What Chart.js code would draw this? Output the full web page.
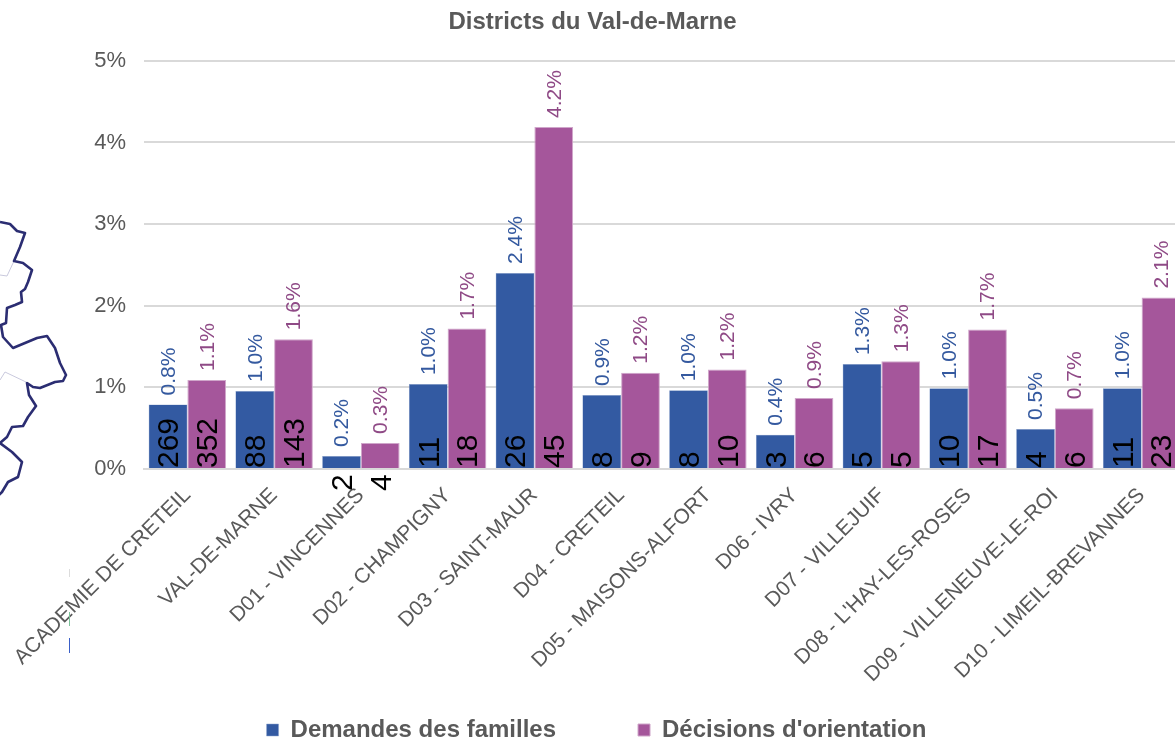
<!DOCTYPE html>
<html><head><meta charset="utf-8">
<style>html,body{margin:0;padding:0;background:#fff;overflow:hidden;width:1175px;height:740px}
#w{position:relative;width:1175px;height:740px;overflow:hidden}
canvas{position:absolute;left:0;top:0}
svg{position:absolute;left:0;top:0;pointer-events:none}</style>
<script src="https://cdn.jsdelivr.net/npm/chart.js@4"></script>
</head><body><div id="w">
<canvas id="c" width="1192" height="740" style="width:1192px;height:740px"></canvas>
<svg width="80" height="660" viewBox="0 0 80 660">
<polyline fill="none" stroke="#c9c9dd" stroke-width="1" points="14,261 7,276 0,275"/>
<polyline fill="none" stroke="#c9c9dd" stroke-width="1" points="0,380 5,372 26,382"/>
<polyline fill="none" stroke="#2b2d72" stroke-width="2.6" stroke-linejoin="round" points="0,222 10,224 17,231 25,233 20,247 14,261 23,263 32,270 28,282 25,289 21,292 22,302 15,305 7,308 6,323 1,325 3,337 13,348 25,343 37,338 47,336 55,348 60,363 66,375 63,381 55,382 40,388 33,387 27,383 29,395 36,406 28,417 23,426 12,427 7,437 0,443 12,452 22,462 18,477 8,482 2,492 -1,495"/>
<line x1="69.5" x2="69.5" y1="569" y2="577" stroke="#dcdcdc"/>
<line x1="69.5" x2="69.5" y1="612" y2="626" stroke="#7cc29a"/>
<line x1="69.5" x2="69.5" y1="638" y2="653" stroke="#3a5fc8"/>
</svg></div>
<script>
const categories = ["ACADEMIE DE CRETEIL","VAL-DE-MARNE","D01 - VINCENNES","D02 - CHAMPIGNY","D03 - SAINT-MAUR","D04 - CRETEIL","D05 - MAISONS-ALFORT","D06 - IVRY","D07 - VILLEJUIF","D08 - L'HAY-LES-ROSES","D09 - VILLENEUVE-LE-ROI","D10 - LIMEIL-BREVANNES"];
const demandes = [0.79,0.955,0.16,1.04,2.4,0.905,0.965,0.42,1.285,0.99,0.49,0.99];
const decisions = [1.09,1.59,0.32,1.72,4.19,1.18,1.22,0.87,1.32,1.71,0.745,2.1];
const demandesCounts = [269,88,2,11,26,8,8,3,5,10,4,11];
const decisionsCounts = [352,143,4,18,45,9,10,6,5,17,6,23];
const seriesNames = ["Demandes des familles","Décisions d'orientation"];
const yTicks = [0,1,2,3,4,5];
const FONT = '"Liberation Sans", Arial, sans-serif';
const labelPlugin = {
  id:'barLabels',
  afterLayout(chart){
    chart.scales.x.bottom += 70;
    chart.legend.left += 8;
  },
  afterDatasetsDraw(chart){
    const ctx = chart.ctx, base = chart.scales.y.getPixelForValue(0);
    const counts = [demandesCounts, decisionsCounts], colors = ['#34599f','#8f4a86'];
    chart.data.datasets.forEach((ds,d)=>{
      chart.getDatasetMeta(d).data.forEach((bar,i)=>{
        ctx.save(); ctx.translate(bar.x+1,bar.y-9); ctx.rotate(-Math.PI/2);
        ctx.font='21px '+FONT; ctx.fillStyle=colors[d]; ctx.textAlign='left'; ctx.textBaseline='middle';
        ctx.fillText(ds.data[i].toFixed(1)+'%',0,0); ctx.restore();
        const small = ds.data[i] < 0.4;
        ctx.save(); ctx.translate(bar.x+2, small ? base+22 : base-1); ctx.rotate(-Math.PI/2);
        ctx.font='30px '+FONT; ctx.fillStyle='#000'; ctx.textAlign='left'; ctx.textBaseline='middle';
        ctx.fillText(String(counts[d][i]),0,0); ctx.restore();
      });
    });
  }
};
new Chart(document.getElementById('c'),{
  type:'bar',
  data:{labels:categories,datasets:[
    {label:seriesNames[0],data:demandes,backgroundColor:'#335aa2',borderColor:'#8fa5cc',borderWidth:0.5},
    {label:seriesNames[1],data:decisions,backgroundColor:'#a5569b',borderColor:'#cfa6ca',borderWidth:1}
  ]},
  options:{
    responsive:false,animation:false,
    layout:{padding:{left:0,right:7,top:0,bottom:-12}},
    datasets:{bar:{categoryPercentage:0.893,barPercentage:1}},
    plugins:{
      tooltip:{enabled:false},
      title:{display:true,text:'Districts du Val-de-Marne',color:'#595959',font:{family:FONT,size:24,weight:'bold'},padding:{top:8,bottom:24}},
      legend:{position:'bottom',labels:{color:'#595959',font:{family:FONT,size:24,weight:'bold'},boxWidth:12,boxHeight:12,padding:82,usePointStyle:false}}
    },
    scales:{
      x:{
        grid:{display:false},border:{color:'#d9d9d9',width:2},
        ticks:{color:'#595959',font:{family:FONT,size:21},maxRotation:45,minRotation:45,autoSkip:false,padding:6},
        afterFit(s){s.height=167;}
      },
      y:{
        min:0,max:5,
        afterFit(s){s.width=144;},
        afterBuildTicks(s){s.ticks=yTicks.map(v=>({value:v}));},
        grid:{color:'#d9d9d9',lineWidth:2,drawTicks:false},border:{display:false},
        ticks:{color:'#595959',font:{family:FONT,size:22},padding:18,callback:v=>v+'%'}
      }
    }
  },
  plugins:[labelPlugin]
});
</script></body></html>
